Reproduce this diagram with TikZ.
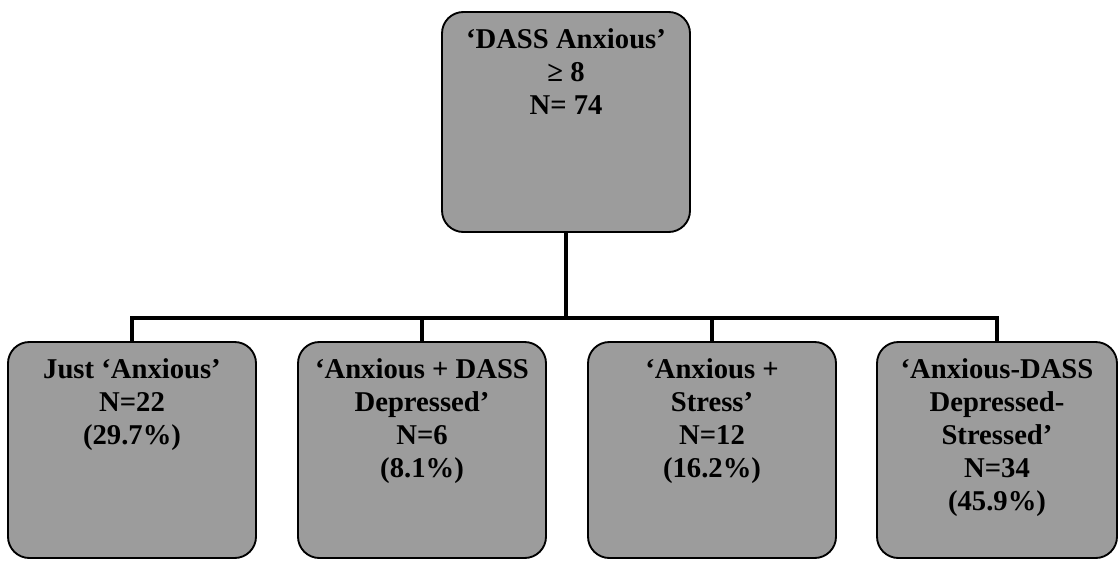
\documentclass[tikz,border=0pt]{standalone}
\usepackage{fontspec}
\setmainfont{Liberation Serif}
\usetikzlibrary{positioning}
\definecolor{boxgray}{RGB}{156,156,156}

\begin{document}
\begin{tikzpicture}[
    x=0.75pt, y=-0.75pt,
    box/.style={rectangle, draw, fill=boxgray, line width=1.4pt, rounded corners=16pt, minimum width=186pt, minimum height=162pt},
    lbl/.style={align=center, inner sep=0pt, font=\bfseries\fontsize{21.5pt}{24.75pt}\selectfont},
    link/.style={line width=3.6pt}
]
    \fill[white] (0,0) rectangle (1118,561);
    \useasboundingbox (0,0) rectangle (1118,561);

    % Top box
    \node[box, minimum height=165pt] (dass) at (566,122) {};
    \node[lbl, below=13pt of dass.north] (dassT) {‘DASS Anxious’\\≥ 8\\N= 74};

    % Bottom boxes
    \node[box] (just) at (132,450) {};
    \node[box] (dep) at (422,450) {};
    \node[box] (str) at (712,450) {};
    \node[box, minimum width=180pt] (all) at (997,450) {};

    \node[lbl, below=13pt of just.north] (justT) {Just ‘Anxious’\\N=22\\(29.7\%)};
    \node[lbl, below=13pt of dep.north] (depT) {‘Anxious + DASS\\Depressed’\\N=6\\(8.1\%)};
    \node[lbl, below=13pt of str.north] (strT) {‘Anxious +\\Stress’\\N=12\\(16.2\%)};
    \node[lbl, below=13pt of all.north] (allT) {‘Anxious-DASS\\Depressed-\\Stressed’\\N=34\\(45.9\%)};

    % Connectors
    \coordinate (split) at (566,318);
    \draw[link] (dass) -- (split);
    \draw[link] (just.north) |- (split) -| (all.north);
    \draw[link] (dep.north) -- (dep.north |- split);
    \draw[link] (str.north) -- (str.north |- split);
\end{tikzpicture}
\end{document}
